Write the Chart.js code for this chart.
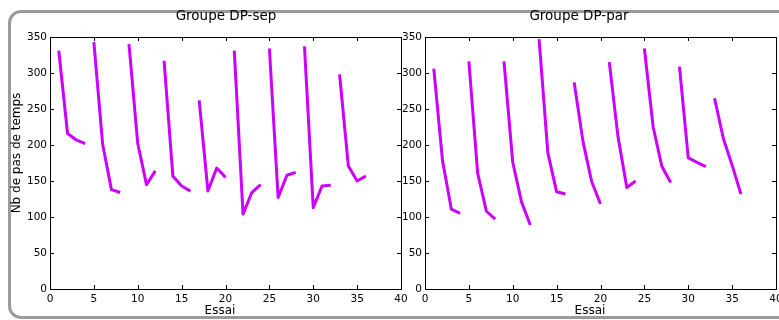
<!DOCTYPE html>
<html>
<head>
<meta charset="utf-8">
<script src="https://cdn.jsdelivr.net/npm/chart.js@4/dist/chart.umd.min.js"></script>
<style>
html,body{margin:0;padding:0;width:779px;height:320px;overflow:hidden;background:#fff;}
#frame{position:absolute;left:8px;top:10px;width:900px;height:303px;border:3px solid #9b9b9b;border-radius:13px;box-sizing:content-box;}
#c1{position:absolute;left:0;top:0;}
#c2{position:absolute;left:380px;top:0;}
</style>
</head>
<body>
<div id="frame"></div>
<canvas id="c1" width="420" height="320"></canvas>
<canvas id="c2" width="420" height="320"></canvas>
<script>
// ---- data ----
const trials = [1,2,3,4,5,6,7,8,9,10,11,12,13,14,15,16,17,18,19,20,21,22,23,24,25,26,27,28,29,30,31,32,33,34,35,36];
const sepValues = [331,216,207,202, 343,201,138,134, 340,202,145,164, 317,157,143,136, 262,136,168,155, 331,104,134,145, 334,127,158,162, 337,113,143,144, 298,171,150,157];
const parValues = [306,178,111,105, 316,161,108,97, 316,176,121,89, 347,189,135,132, 287,205,149,118, 315,211,141,150, 334,225,170,148, 309,182,176,170, 265,209,172,132];
const blockSize = 4;
const titles = ["Groupe DP-sep", "Groupe DP-par"];
const yLabel = "Nb de pas de temps";
const xLabel = "Essai";
const yTicks = [0,50,100,150,200,250,300,350];
const xTicks = [0,5,10,15,20,25,30,35,40];

const lineColor = '#cc00ff';
const FONT = "'DejaVu Sans', sans-serif";

function framePlugin(opts){
  return {
    id: 'frameTicks',
    afterDraw(chart){
      const {ctx, chartArea:a, scales:{x, y}} = chart;
      ctx.save();
      ctx.strokeStyle = '#000';
      ctx.lineWidth = 1;
      ctx.strokeRect(Math.round(a.left)+0.5, Math.round(a.top)+0.5, Math.round(a.right-a.left), Math.round(a.bottom-a.top));
      const L = 4;
      ctx.beginPath();
      yTicks.forEach(v => {
        const py = Math.round(y.getPixelForValue(v)) + 0.5;
        ctx.moveTo(a.left, py); ctx.lineTo(a.left + L, py);
        ctx.moveTo(a.right, py); ctx.lineTo(a.right - L, py);
      });
      xTicks.forEach(v => {
        const px = Math.round(x.getPixelForValue(v)) + 0.5;
        ctx.moveTo(px, a.bottom); ctx.lineTo(px, a.bottom - L);
        ctx.moveTo(px, a.top); ctx.lineTo(px, a.top + L);
      });
      ctx.stroke();
      // texts
      ctx.fillStyle = '#000';
      ctx.textAlign = 'center';
      ctx.textBaseline = 'middle';
      ctx.font = "13.5px " + FONT;
      ctx.fillText(opts.title, opts.titleX, 16);
      ctx.font = "12px " + FONT;
      ctx.fillText(xLabel, opts.xLabelX, 311);
      if (opts.yLabel) {
        ctx.translate(17, 153);
        ctx.rotate(-Math.PI/2);
        ctx.fillText(opts.yLabel, 0, 0);
      }
      ctx.restore();
    }
  };
}

function makeChart(id, values, yWidth, padRight, opts){
  const pts = trials.map((t, i) => ({x: t, y: values[i]}));
  return new Chart(document.getElementById(id), {
    type: 'line',
    data: { datasets: [{
      data: pts,
      borderColor: lineColor,
      borderWidth: 3,
      pointRadius: 0,
      tension: 0,
      fill: false,
      borderJoinStyle: 'round',
      segment: {
        borderColor: c => (c.p0DataIndex % blockSize === blockSize - 1) ? 'rgba(0,0,0,0)' : lineColor
      }
    }]},
    options: {
      responsive: false,
      animation: false,
      layout: { padding: { left: 0, right: padRight, top: 37, bottom: 0 } },
      plugins: { legend: { display: false }, title: { display: false }, tooltip: { enabled: false } },
      scales: {
        x: {
          type: 'linear', min: 0, max: 40,
          border: { display: false },
          grid: { display: false, drawTicks: false },
          ticks: { stepSize: 5, color: '#000', font: { family: FONT, size: 10.5 }, padding: 4, maxRotation: 0, autoSkip: false },
          afterFit: s => { s.height = 31; }
        },
        y: {
          min: 0, max: 350,
          border: { display: false },
          grid: { display: false, drawTicks: false },
          ticks: { stepSize: 50, color: '#000', font: { family: FONT, size: 10.5 }, padding: 3 },
          afterFit: s => { s.width = yWidth; }
        }
      }
    },
    plugins: [framePlugin(opts)]
  });
}

makeChart('c1', sepValues, 50, 19, { title: titles[0], titleX: 226, xLabelX: 220, yLabel: yLabel });
makeChart('c2', parValues, 45, 24, { title: titles[1], titleX: 199, xLabelX: 210, yLabel: null });
</script>
</body>
</html>
